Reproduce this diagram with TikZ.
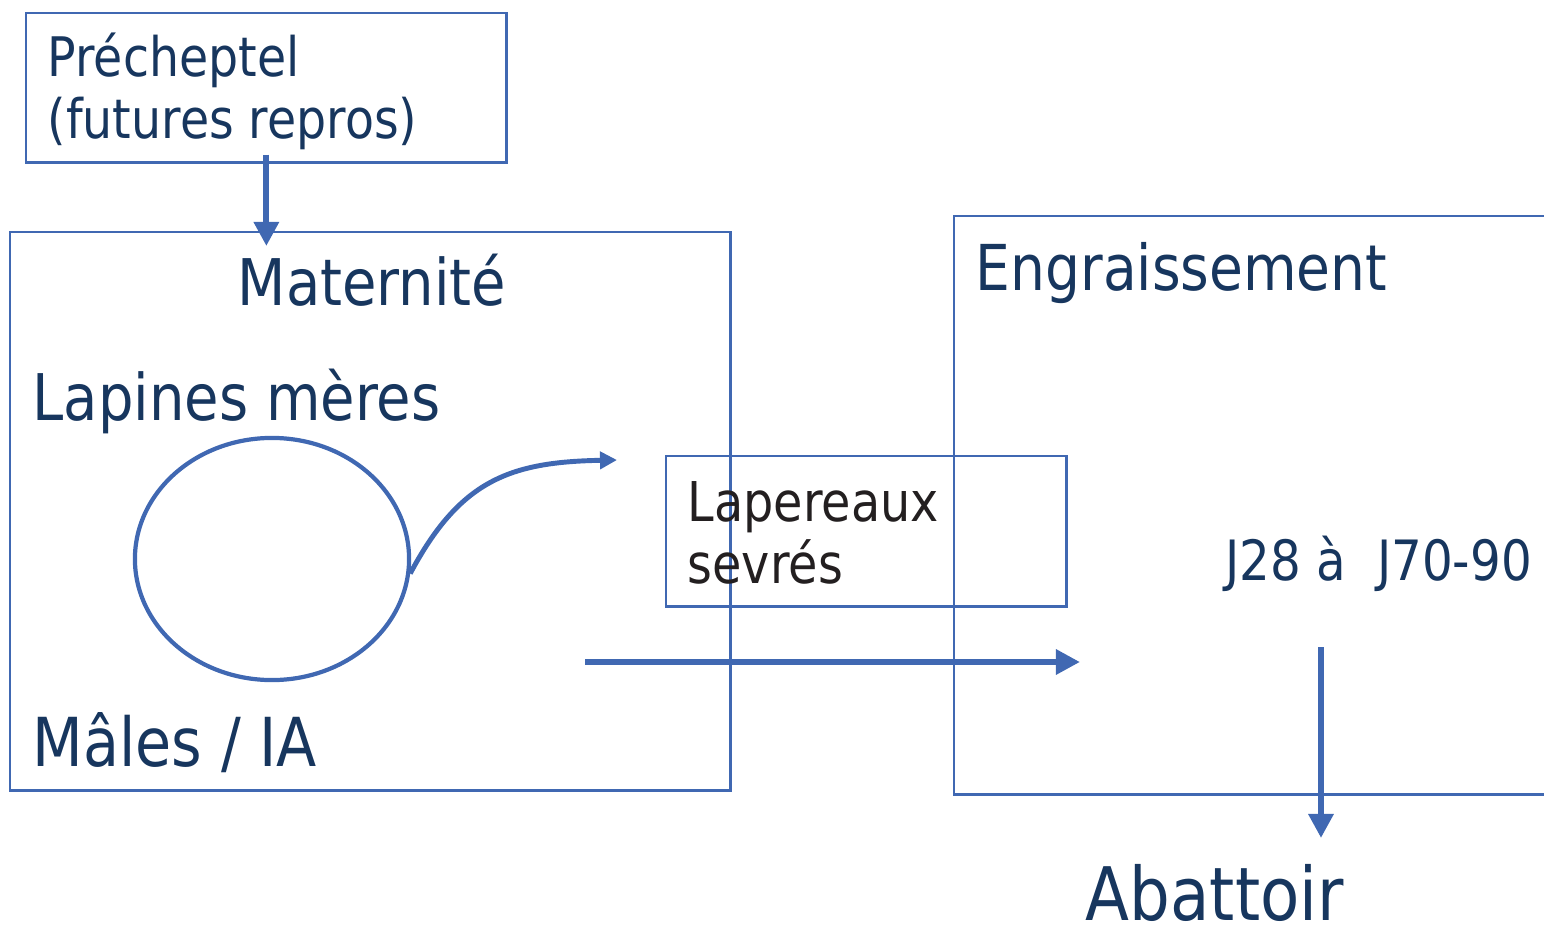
\documentclass[tikz,border=0pt]{standalone}
\usepackage{fontspec}
\setmainfont{DejaVu Sans}[FakeStretch=0.87]
\usetikzlibrary{arrows.meta,shapes.geometric}
\definecolor{linkblue}{HTML}{4068B2}
\definecolor{navy}{HTML}{17365E}
\definecolor{ink}{HTML}{231F20}
\tikzset{
	box/.style={draw=linkblue, line width=0.7pt, inner sep=0, anchor=north west},
	label/.style={inner sep=0, anchor=base west, text=navy, align=left},
	flow/.style={draw=linkblue, line width=1.7pt, -{Triangle[length=0.24cm,width=0.24cm]}},
}
\begin{document}
\begin{tikzpicture}[x=0.01cm, y=-0.01cm]
	
	\useasboundingbox (0,0) rectangle (1544,927);
	\clip (0,0) rectangle (1544,927);
	
	\node[box, minimum width=4.8cm, minimum height=1.49cm] (prechbox) at (25,12) {};
	\node[box, minimum width=7.2cm, minimum height=5.58cm] (matbox) at (9,231) {};
	\node[box, minimum width=6.1cm, minimum height=5.78cm] (engbox) at (953,215) {};
	\node[box, minimum width=4.0cm, minimum height=1.5cm] (lapbox) at (665,455) {};
	
	\node[label, font=\fontsize{15.5}{17.6}\selectfont] (prech) at (47,138) {Précheptel\\(futures repros)};
	\node[label, font=\fontsize{18.3}{22}\selectfont] (mat) at (237,305) {Maternité};
	\node[label, font=\fontsize{18.3}{22}\selectfont] (meres) at (32,420) {Lapines mères};
	\node[label, font=\fontsize{19.2}{22}\selectfont] (males) at (32,766) {Mâles / IA};
	\node[label, text=ink, font=\fontsize{15.6}{17.6}\selectfont] (lap) at (687,583) {Lapereaux\\sevrés};
	\node[label, font=\fontsize{18}{22}\selectfont] (eng) at (975,290) {Engraissement};
	\node[label, font=\fontsize{15.8}{18}\selectfont] (days) at (1225,580) {J28 à \ J70-90};
	\node[label, font=\fontsize{21}{25}\selectfont] (abat) at (1085,920) {Abattoir};
	
	\node[ellipse, draw=linkblue, line width=1.2pt, minimum width=2.74cm, minimum height=2.42cm, inner sep=0] (cycle) at (272,559) {};
	
	\coordinate (curveend) at (617,460);
	\coordinate (exitstart) at (585,662);
	\coordinate (exitend) at (1080,662);
	\coordinate (slaughter) at (1321,647);
	\coordinate (slaughterend) at (1321,838);
	
	\draw[flow] ([yshift=0.09cm]prechbox.south) -- ([yshift=-0.15cm]prechbox.south |- matbox.north);
	\draw[draw=linkblue, line width=1.4pt, -{Triangle[length=0.17cm,width=0.17cm]}] (cycle.-6) .. controls (460,480) and (510,462) .. (curveend);
	\draw[flow] (exitstart) -- (exitend);
	\draw[flow] (slaughter) -- (slaughterend);
	
\end{tikzpicture}
\end{document}
